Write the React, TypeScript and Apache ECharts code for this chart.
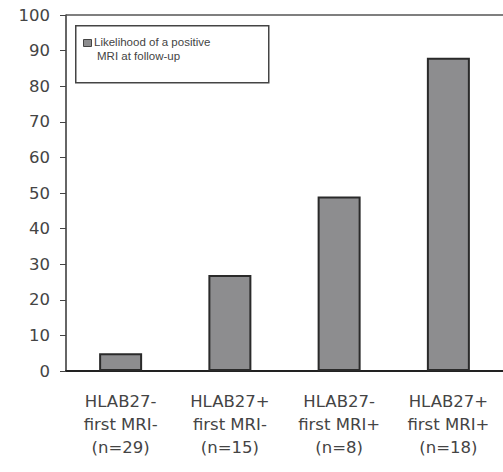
import React, { useEffect, useRef } from "react";
import * as echarts from "echarts";

const categories = [
  "HLAB27-\nfirst MRI-\n(n=29)",
  "HLAB27+\nfirst MRI-\n(n=15)",
  "HLAB27-\nfirst MRI+\n(n=8)",
  "HLAB27+\nfirst MRI+\n(n=18)",
];
const likelihood = [5, 27, 49, 88];
const legendLines = ["Likelihood of a positive", "MRI at follow-up"];
const yTicks = [0, 10, 20, 30, 40, 50, 60, 70, 80, 90, 100];

export default function App() {
  const ref = useRef<HTMLDivElement>(null);
  useEffect(() => {
    if (!ref.current) return;
    const chart = echarts.init(ref.current, null, { renderer: "svg" });
    chart.setOption({
      animation: false,
      backgroundColor: "#ffffff",
      grid: { left: 66, top: 15, width: 440, height: 356 },
      xAxis: {
        type: "category",
        data: categories,
        axisLine: { lineStyle: { color: "#222", width: 2 } },
        axisTick: { length: 6, lineStyle: { color: "#444", width: 1 } },
        axisLabel: {
          color: "#444",
          fontFamily: "DejaVu Sans",
          fontSize: 16.5,
          lineHeight: 23,
          margin: 19,
          interval: 0,
        },
      },
      yAxis: {
        type: "value",
        min: yTicks[0],
        max: yTicks[yTicks.length - 1],
        interval: 10,
        axisLine: { show: true, lineStyle: { color: "#333", width: 1.5 } },
        axisTick: { show: true, length: 6, lineStyle: { color: "#444" } },
        splitLine: { show: false },
        axisLabel: {
          color: "#444",
          fontFamily: "DejaVu Sans",
          fontSize: 16.5,
          margin: 16,
        },
      },
      series: [
        {
          type: "bar",
          name: legendLines.join(" "),
          data: likelihood,
          barWidth: 43,
          itemStyle: { color: "#8d8d8f", borderColor: "#2a2a2a", borderWidth: 2 },
          markLine: {
            silent: true,
            symbol: "none",
            label: { show: false },
            lineStyle: { color: "#555", width: 1.5, type: "solid" },
            data: [{ yAxis: yTicks[yTicks.length - 1] }],
          },
        },
      ],
      graphic: [
        {
          type: "rect",
          left: 75,
          top: 25,
          shape: { width: 193, height: 57 },
          style: { fill: "#fff", stroke: "#444", lineWidth: 1.5 },
        },
        {
          type: "rect",
          left: 83,
          top: 39,
          shape: { width: 8, height: 7 },
          style: { fill: "#8d8d8f", stroke: "#444", lineWidth: 1 },
        },
        {
          type: "text",
          left: 94,
          top: 36,
          style: {
            text: legendLines[0],
            fill: "#444",
            font: "11.5px 'Liberation Sans'",
          },
        },
        {
          type: "text",
          left: 97,
          top: 50,
          style: {
            text: legendLines[1],
            fill: "#444",
            font: "11.5px 'Liberation Sans'",
          },
        },
      ],
    });
    return () => chart.dispose();
  }, []);
  return (
    <div
      ref={ref}
      style={{ position: "fixed", left: 0, top: 0, width: 503, height: 472 }}
    />
  );
}
